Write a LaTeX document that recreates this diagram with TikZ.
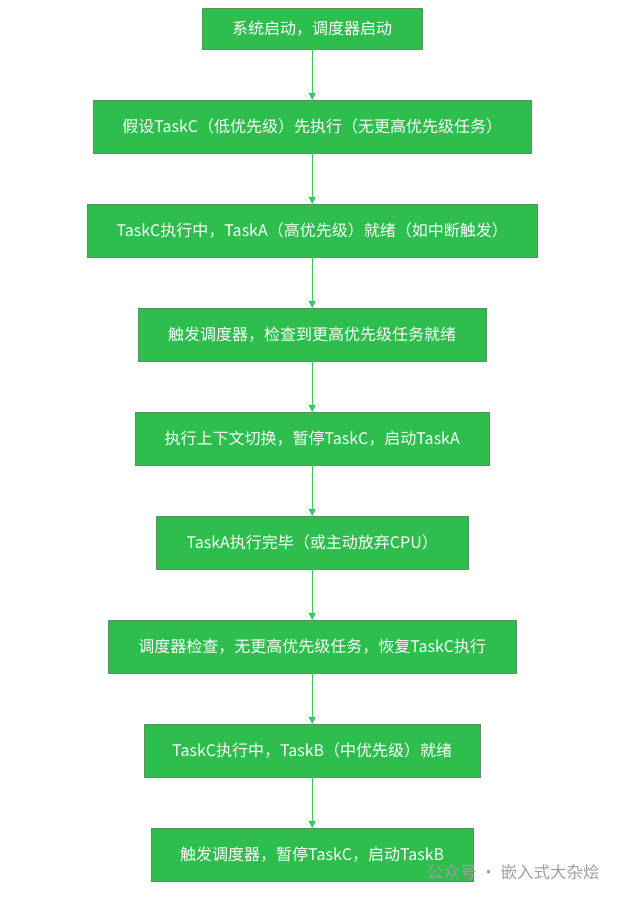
\documentclass[tikz,border=0pt]{standalone}
\usepackage{fontspec}
\setmainfont{Noto Sans CJK SC}
\usetikzlibrary{arrows.meta}
\definecolor{bx}{HTML}{2DBE4E}
\definecolor{bd}{HTML}{5A8F62}
\definecolor{ln}{HTML}{3CC85A}
\begin{document}
\begin{tikzpicture}[x=1pt,y=-1pt,
  stepbox/.style={draw=bd,fill=bx,text=white,font=\fontsize{16}{18}\selectfont,inner sep=0pt},
  conn/.style={draw=ln,line width=0.8pt,-{Triangle[length=7pt,width=7pt]}}]
\useasboundingbox (0,0) rectangle (626,897);
\def\bx#1#2#3#4#5#6{\node[stepbox,minimum width={#4-#2},minimum height={#5-#3},anchor=north west] (#1) at (#2,#3) {#6};}
\bx{n1}{202}{8}{422}{49}{系统启动，调度器启动}
\bx{n2}{93}{100}{531}{153}{假设TaskC（低优先级）先执行（无更高优先级任务）}
\bx{n3}{87}{204}{537}{257}{TaskC执行中，TaskA（高优先级）就绪（如中断触发）}
\bx{n4}{138}{308}{486}{361}{触发调度器，检查到更高优先级任务就绪}
\bx{n5}{135}{412}{489}{465}{执行上下文切换，暂停TaskC，启动TaskA}
\bx{n6}{156}{516}{468}{569}{TaskA执行完毕（或主动放弃CPU）}
\bx{n7}{108}{620}{516}{673}{调度器检查，无更高优先级任务，恢复TaskC执行}
\bx{n8}{144}{724}{480}{777}{TaskC执行中，TaskB（中优先级）就绪}
\bx{n9}{151}{828}{473}{881}{触发调度器，暂停TaskC，启动TaskB}
\foreach \a/\b in {n1/n2,n2/n3,n3/n4,n4/n5,n5/n6,n6/n7,n7/n8,n8/n9}
  \draw[conn] (\a.south) -- (\a.south |- \b.north);
\node[text=gray!75,font=\fontsize{16.5}{18}\selectfont,anchor=west,inner sep=0pt] (wm) at (427,872) {公众号 · 嵌入式大杂烩};
\end{tikzpicture}
\end{document}
